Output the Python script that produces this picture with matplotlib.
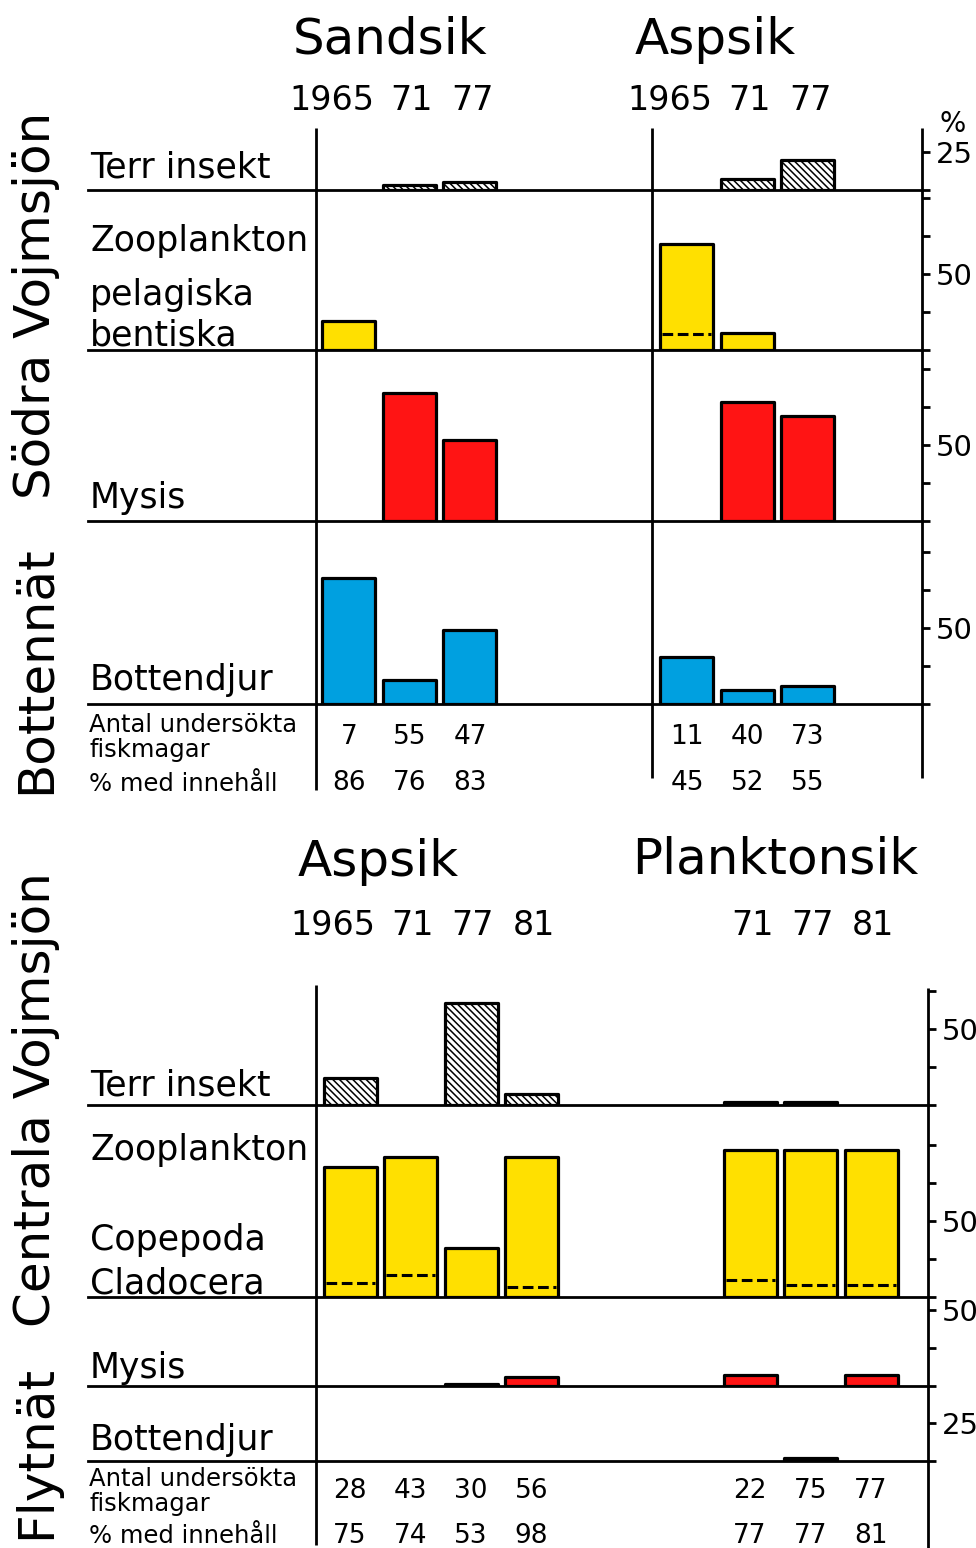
import matplotlib.pyplot as plt
import numpy as np

plt.rcParams['font.family'] = ['DejaVu Sans']
plt.rcParams['hatch.linewidth'] = 1.1

W, H = 976, 1548
PX_PER_PCT = 1.52
PITCH = 60.5
BAR_W = 53
LEFT = 88
LW = 2.0

YELLOW = '#FFE000'
RED = '#FF1414'
BLUE = '#00A0E0'
HATCH = '\\' * 5

# --- Södra Vojmsjön, bottennät -------------------------------------------
south_years = ['1965', '71', '77']

sandsik_terr = [0, 3.5, 5]
sandsik_zoo = [19, 0, 0]
sandsik_zoo_bent = [0, 0, 0]
sandsik_mysis = [0, 84, 53]
sandsik_bottom = [83, 16, 48.5]
sandsik_n = [7, 55, 47]
sandsik_pct = [86, 76, 83]

aspsik_s_terr = [0, 7, 20]
aspsik_s_zoo = [70, 11, 0]
aspsik_s_zoo_bent = [10.5, 0, 0]
aspsik_s_mysis = [0, 78, 69]
aspsik_s_bottom = [31, 9, 12]
aspsik_s_n = [11, 40, 73]
aspsik_s_pct = [45, 52, 55]

# --- Centrala Vojmsjön, flytnät ------------------------------------------
aspsik_c_years = ['1965', '71', '77', '81']
aspsik_c_terr = [18, 0, 67, 7]
aspsik_c_zoo = [85.5, 92, 32, 92]
aspsik_c_zoo_clad = [9, 14.5, 0, 6.5]
aspsik_c_mysis = [0, 0, 1.5, 6]
aspsik_c_bottom = [0, 0, 0, 0]
aspsik_c_n = [28, 43, 30, 56]
aspsik_c_pct = [75, 74, 53, 98]

plankton_years = ['71', '77', '81']
plankton_terr = [2, 2, 0]
plankton_zoo = [97, 96.5, 96.5]
plankton_zoo_clad = [11, 8, 8]
plankton_mysis = [7, 0, 7]
plankton_bottom = [0, 2, 0]
plankton_n = [22, 75, 77]
plankton_pct = [77, 77, 81]


fig = plt.figure(figsize=(W / 100, H / 100), dpi=100)


def fig_axes(x0, x1, y0, y1):
    return fig.add_axes([x0 / W, 1 - y1 / H, (x1 - x0) / W, (y1 - y0) / H])


def panel(y_top, y_base, x_right, ticks, labels):
    ax = fig_axes(LEFT, x_right, y_top, y_base)
    ax.set_xlim(LEFT, x_right)
    ax.set_ylim(0, (y_base - y_top) / PX_PER_PCT)
    ax.patch.set_visible(False)
    for side in ('top', 'left', 'right'):
        ax.spines[side].set_visible(False)
    ax.spines['bottom'].set_linewidth(LW)
    ax.set_xticks([])
    ax.yaxis.tick_right()
    ax.set_yticks(ticks, labels)
    ax.tick_params(axis='y', direction='out', length=6, width=LW,
                   pad=4, labelsize=21)
    return ax


def bars(ax, x0, values, color, hatch=None, split=None):
    vals = np.asarray(values, dtype=float)
    xs = x0 + PITCH * np.arange(len(vals))
    m = vals > 0
    if not m.any():
        return
    face = 'white' if hatch else color
    rects = ax.bar(xs[m], vals[m], BAR_W, color=face, edgecolor='black',
                   linewidth=2.3, hatch=hatch, zorder=3)
    for r in rects:
        r.set_joinstyle('round')
    if split is not None:
        sp = np.asarray(split, dtype=float)
        k = sp > 0
        ax.hlines(sp[k], xs[k] - BAR_W / 2 + 2, xs[k] + BAR_W / 2 - 2,
                  colors='black', linewidth=2.2,
                  linestyles=(0, (3.5, 1.5)), zorder=4)


# --- upper block ---------------------------------------------------------
R1 = 922
X_SAND, X_ASP1 = 349, 687

ax = panel(128, 190, R1, [0, 25], ['', '25'])
bars(ax, X_SAND, sandsik_terr, None, HATCH)
bars(ax, X_ASP1, aspsik_s_terr, None, HATCH)

ax = panel(190, 350, R1, [0, 25, 50, 75, 100], ['', '', '50', '', ''])
bars(ax, X_SAND, sandsik_zoo, YELLOW, split=sandsik_zoo_bent)
bars(ax, X_ASP1, aspsik_s_zoo, YELLOW, split=aspsik_s_zoo_bent)

ax = panel(350, 521, R1, [0, 25, 50, 75, 100], ['', '', '50', '', ''])
bars(ax, X_SAND, sandsik_mysis, RED)
bars(ax, X_ASP1, aspsik_s_mysis, RED)

ax = panel(521, 704, R1, [0, 25, 50, 75, 100], ['', '', '50', '', ''])
bars(ax, X_SAND, sandsik_bottom, BLUE)
bars(ax, X_ASP1, aspsik_s_bottom, BLUE)

# --- lower block ---------------------------------------------------------
R2 = 928
X_ASP2, X_PLANK = 350, 750

ax = panel(988, 1105, R2, [0, 25, 50, 75], ['', '', '50', ''])
bars(ax, X_ASP2, aspsik_c_terr, None, HATCH)
bars(ax, X_PLANK, plankton_terr, None, HATCH)

ax = panel(1105, 1297, R2, [0, 25, 50, 75, 100], ['', '', '50', '', ''])
bars(ax, X_ASP2, aspsik_c_zoo, YELLOW, split=aspsik_c_zoo_clad)
bars(ax, X_PLANK, plankton_zoo, YELLOW, split=plankton_zoo_clad)

ax = panel(1297, 1386, R2, [0, 25, 50], ['', '', '50'])
bars(ax, X_ASP2, aspsik_c_mysis, RED)
bars(ax, X_PLANK, plankton_mysis, RED)

ax = panel(1386, 1461, R2, [0, 25], ['', '25'])
bars(ax, X_ASP2, aspsik_c_bottom, BLUE)
bars(ax, X_PLANK, plankton_bottom, BLUE)

# --- frame, headings and tables (pixel coordinates) ----------------------
fr = fig.add_axes([0, 0, 1, 1])
fr.set_xlim(0, W)
fr.set_ylim(H, 0)
fr.axis('off')
fr.patch.set_visible(False)

for x, y0, y1 in [(316, 128, 790), (652, 128, 778), (R1, 128, 778),
                  (316, 985, 1545), (R2, 988, 1548)]:
    fr.plot([x, x], [y0, y1], color='black', lw=LW, solid_capstyle='butt')

fr.text(R1 + 31, 124, '%', fontsize=20, ha='center', va='center')

big = dict(fontsize=36, rotation=90, ha='center', va='center')
fr.text(36, 305, 'Södra Vojmsjön', **big)
fr.text(36, 670, 'Bottennät', **big)
fr.text(36, 1100, 'Centrala Vojmsjön', **big)
fr.text(36, 1452, 'Flytnät', **big)

title = dict(fontsize=36, ha='center', va='baseline')
fr.text(390, 54, 'Sandsik', **title)
fr.text(715, 54, 'Aspsik', **title)
fr.text(378, 876, 'Aspsik', **title)
fr.text(775, 874, 'Planktonsik', **title)


def year_labels(x0, years, y):
    for i, yr in enumerate(years):
        x = x0 + PITCH * i
        if len(yr) > 2:
            fr.text(x + BAR_W / 2 - 1, y, yr, fontsize=24, ha='right', va='baseline')
        else:
            fr.text(x + 2, y, yr, fontsize=24, ha='center', va='baseline')


year_labels(X_SAND, south_years, 110)
year_labels(X_ASP1, south_years, 110)
year_labels(X_ASP2, aspsik_c_years, 935)
year_labels(X_PLANK, plankton_years, 935)

row = dict(fontsize=25, ha='left', va='baseline')
for txt, y in [('Terr insekt', 178), ('Zooplankton', 251), ('pelagiska', 305),
               ('bentiska', 345), ('Mysis', 508), ('Bottendjur', 690),
               ('Terr insekt', 1095), ('Zooplankton', 1160), ('Copepoda', 1250),
               ('Cladocera', 1293), ('Mysis', 1378), ('Bottendjur', 1450)]:
    fr.text(90, y, txt, **row)

tab = dict(fontsize=17.5, ha='left', va='baseline')
for y_a, y_f, y_p in [(732, 757, 791), (1486, 1511, 1543)]:
    fr.text(89, y_a, 'Antal undersökta', **tab)
    fr.text(89, y_f, 'fiskmagar', **tab)
    fr.text(89, y_p, '% med innehåll', **tab)


def table_values(x0, n, pct, y_n, y_p):
    for i, (a, b) in enumerate(zip(n, pct)):
        x = x0 + PITCH * i
        fr.text(x, y_n, str(a), fontsize=19, ha='center', va='baseline')
        fr.text(x, y_p, str(b), fontsize=19, ha='center', va='baseline')


table_values(X_SAND, sandsik_n, sandsik_pct, 744, 790)
table_values(X_ASP1, aspsik_s_n, aspsik_s_pct, 744, 790)
table_values(X_ASP2, aspsik_c_n, aspsik_c_pct, 1498, 1543)
table_values(X_PLANK, plankton_n, plankton_pct, 1498, 1543)

fig.savefig('out.png', dpi=100)
